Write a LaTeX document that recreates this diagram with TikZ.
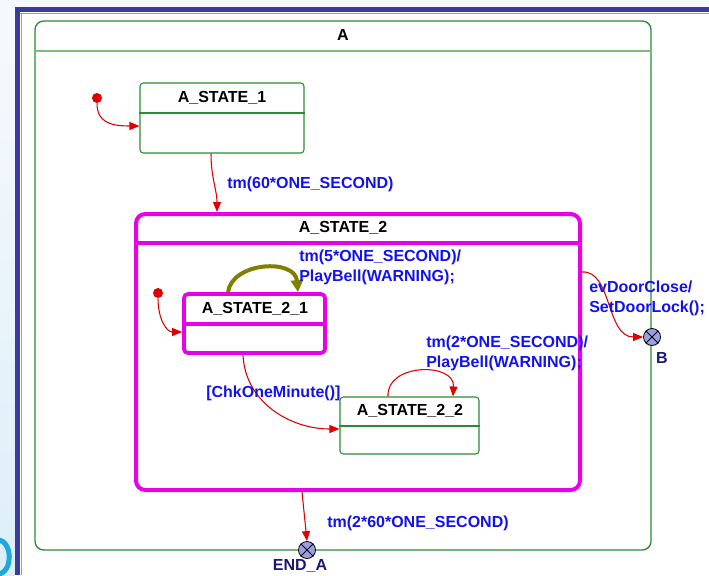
\documentclass[tikz,border=0pt]{standalone}
\usepackage{fontspec}
\setmainfont{Liberation Sans}
\usetikzlibrary{arrows.meta,fit}
\definecolor{bgc}{HTML}{F5F9FD}
\definecolor{leftc}{HTML}{DDEEF8}
\definecolor{framec}{HTML}{3B3B9E}
\definecolor{framel}{HTML}{9A9AD0}
\definecolor{greenc}{HTML}{2E8B35}
\definecolor{greenl}{HTML}{7DBB7D}
\definecolor{magc}{HTML}{E800E8}
\definecolor{redc}{HTML}{E00000}
\definecolor{bluec}{HTML}{1212EE}
\definecolor{olivec}{HTML}{808000}
\definecolor{navyc}{HTML}{1A1A70}
\definecolor{pseudoc}{HTML}{9AA0E2}
\definecolor{cyanc}{HTML}{1EA8DC}
\begin{document}
\begin{tikzpicture}[x=0.75pt,y=-0.75pt,
  every node/.style={font=\fontsize{12}{15}\selectfont\bfseries},
  box/.style={fit={#1}, inner sep=0pt, draw},
  greenstate/.style={draw=greenc, line width=0.8pt, rounded corners=2.5pt},
  magstate/.style={draw=magc, line width=2.8pt, rounded corners=3pt},
  sname/.style={text=black, inner sep=0pt},
  lbl/.style={text=bluec, inner sep=0pt, align=left, anchor=west},
  tr/.style={draw=redc, line width=0.8pt, -{Triangle[length=7.5pt,width=6pt]}},
  initdot/.style={circle, fill=redc, inner sep=0pt, minimum size=7.5pt},
  pseudo/.style={circle, draw=black, line width=0.6pt, fill=pseudoc, inner sep=0pt, minimum size=12.75pt},
  plbl/.style={text=navyc, inner sep=0pt}]
\useasboundingbox (0,0) rectangle (709,575);
% screenshot background and frame
\fill[bgc] (0,0) rectangle (709,575);
\shade[top color=bgc, bottom color=leftc] (0,40) rectangle (15,575);
\fill[white] (20,12) rectangle (709,575);
\fill[framec] (15,7) rectangle (709,12);
\fill[framec] (15,7) rectangle (20,575);
\draw[framel, line width=0.6pt] (20,13.5) -- (709,13.5);
\draw[framel, line width=0.6pt] (21.5,13.5) -- (21.5,575);
\draw[cyanc, line width=3.8pt] (-2,540) .. controls (13,541) and (13,573) .. (-2,574);

% outer state A
\node[box={(35,21)(651,550)}, draw=greenc, line width=1pt, rounded corners=6.5pt] (A) {};
\draw[greenl, line width=1.4pt] (A.west |- 0,51) -- (A.east |- 0,51);
\node[sname] (lA) at (343,35) {A};

% A_STATE_1
\node[box={(140,83)(304,153)}, greenstate] (s1) {};
\draw[greenc, line width=0.8pt] (s1.west |- 0,113) -- (s1.east |- 0,113);
\node[sname] (ls1) at (222,98) {A\_STATE\_1};

% A_STATE_2
\node[box={(136,214)(580,490)}, draw=magc, line width=3pt, rounded corners=7pt] (s2) {};
\draw[magc, line width=3pt] (s2.west |- 0,243) -- (s2.east |- 0,243);
\node[sname] (ls2) at (343,228) {A\_STATE\_2};

% A_STATE_2_1
\node[box={(184,294)(325,353)}, magstate] (s21) {};
\draw[magc, line width=2.8pt] (s21.west |- 0,324) -- (s21.east |- 0,324);
\node[sname] (ls21) at (255,309) {A\_STATE\_2\_1};

% A_STATE_2_2
\node[box={(340,397)(479,454)}, greenstate] (s22) {};
\draw[greenc, line width=0.8pt] (s22.west |- 0,426) -- (s22.east |- 0,426);
\node[sname] (ls22) at (410,411) {A\_STATE\_2\_2};

% initial pseudo states
\node[initdot] (i1) at (97,98) {};
\node[initdot] (i2) at (158,293) {};

% final pseudo states
\node[pseudo] (B) at (652,337) {};
\draw[black, line width=0.6pt] (B.45) -- (B.225) (B.135) -- (B.315);
\node[plbl] (lB) at (662,358) {B};
\node[pseudo] (E) at (307,550) {};
\draw[black, line width=0.6pt] (E.45) -- (E.225) (E.135) -- (E.315);
\node[plbl] (lE) at (300,566) {END\_A};

% transitions
\draw[tr] (i1) .. controls (97,122) and (110,126) .. (s1.west |- 0,126);
\draw[tr] (s1.south -| 211,0) .. controls (211,178) and (217,190) .. (s2.north -| 217,0);
\node[lbl] (t1) at (227,184) {tm(60*ONE\_SECOND)};

\draw[draw=olivec, line width=3pt, -{Triangle[length=9pt,width=9pt]}]
  (s21.north -| 228,0) .. controls (232,262) and (295,258) .. (s21.north -| 298,0);
\node[lbl] (t2) at (299,267) {tm(5*ONE\_SECOND)/\\PlayBell(WARNING);};

\draw[tr] (i2) .. controls (158,320) and (167,332) .. (s21.west |- 0,332);

\draw[tr] (s21.south -| 243,0) .. controls (245,402) and (290,429) .. (s22.west |- 0,429);
\node[lbl] (t3) at (206,393) {[ChkOneMinute()]};

\draw[tr] (s22.north -| 388,0) .. controls (386,363) and (455,362) .. (s22.north -| 453,0);
\node[lbl] (t4) at (426,353) {tm(2*ONE\_SECOND)/\\PlayBell(WARNING);};

\draw[tr] (s2.east |- 0,272) .. controls (612,270) and (606,337) .. (B.west);
\node[lbl] (t5) at (589,298) {evDoorClose/\\SetDoorLock();};

\draw[tr] (s2.south -| 302,0) -- (E.north);
\node[lbl] (t6) at (327,523) {tm(2*60*ONE\_SECOND)};
\end{tikzpicture}
\end{document}
